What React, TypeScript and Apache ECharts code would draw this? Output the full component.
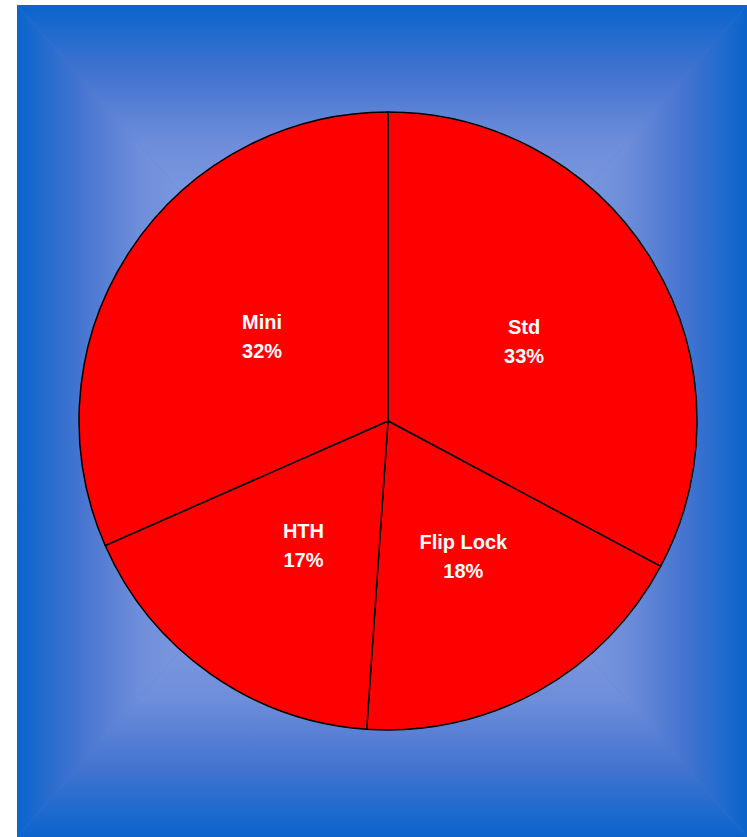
import React, { useEffect, useRef } from "react";
import * as echarts from "echarts";

const categories = ["Std", "Flip Lock", "HTH", "Mini"];
const values = [32.8, 18.3, 17.3, 31.6];

const W = 747;
const H = 837;
const FX0 = 17;
const FY0 = 5;
const CX = (FX0 + W) / 2;
const CY = (FY0 + H) / 2;

const stops = [
  { offset: 0, color: "rgb(10,100,204)" },
  { offset: 0.17, color: "rgb(68,116,208)" },
  { offset: 0.33, color: "rgb(110,141,218)" },
  { offset: 1, color: "rgb(175,195,238)" },
];

const labelOffsets: Record<string, number[]> = {
  Std: [1, 2],
  "Flip Lock": [-1, -2],
  HTH: [6, -4],
  Mini: [6, 2],
};

function grad(x: number, y: number, x2: number, y2: number) {
  return { type: "linear", x, y, x2, y2, colorStops: stops };
}

export default function App() {
  const ref = useRef<HTMLDivElement>(null);
  useEffect(() => {
    if (!ref.current) return;
    const chart = echarts.init(ref.current, undefined, { renderer: "svg" });
    chart.setOption({
      animation: false,
      backgroundColor: "#ffffff",
      graphic: [
        {
          type: "rect",
          z: -10,
          shape: { x: FX0, y: FY0, width: W - FX0, height: H - FY0 },
          style: { fill: "rgb(80,122,212)" },
        },
        {
          type: "polygon",
          z: -9,
          shape: { points: [[FX0, FY0], [W, FY0], [CX, CY]] },
          style: { fill: grad(0, 0, 0, 1) },
        },
        {
          type: "polygon",
          z: -9,
          shape: { points: [[FX0, H], [W, H], [CX, CY]] },
          style: { fill: grad(0, 1, 0, 0) },
        },
        {
          type: "polygon",
          z: -9,
          shape: { points: [[FX0, FY0], [FX0, H], [CX, CY]] },
          style: { fill: grad(0, 0, 1, 0) },
        },
        {
          type: "polygon",
          z: -9,
          shape: { points: [[W, FY0], [W, H], [CX, CY]] },
          style: { fill: grad(1, 0, 0, 0) },
        },
      ],
      series: [
        {
          type: "pie",
          center: [388, 421],
          radius: 309,
          startAngle: 90,
          clockwise: true,
          data: categories.map((c, i) => ({
            name: c,
            value: values[i],
            label: { offset: labelOffsets[c] },
          })),
          itemStyle: { color: "#FF0000", borderColor: "#000000", borderWidth: 1.5 },
          label: {
            show: true,
            position: "inside",
            color: "#ffffff",
            fontFamily: "Liberation Sans, Arial, sans-serif",
            fontWeight: "bold",
            fontSize: 20,
            lineHeight: 29,
            formatter: (p: any) => `${p.name}\n${Math.round(p.percent)}%`,
          },
          labelLine: { show: false },
          emphasis: { disabled: true },
        },
      ],
    });
    return () => chart.dispose();
  }, []);
  return (
    <div
      ref={ref}
      style={{ position: "fixed", left: 0, top: 0, width: W, height: H }}
    />
  );
}
